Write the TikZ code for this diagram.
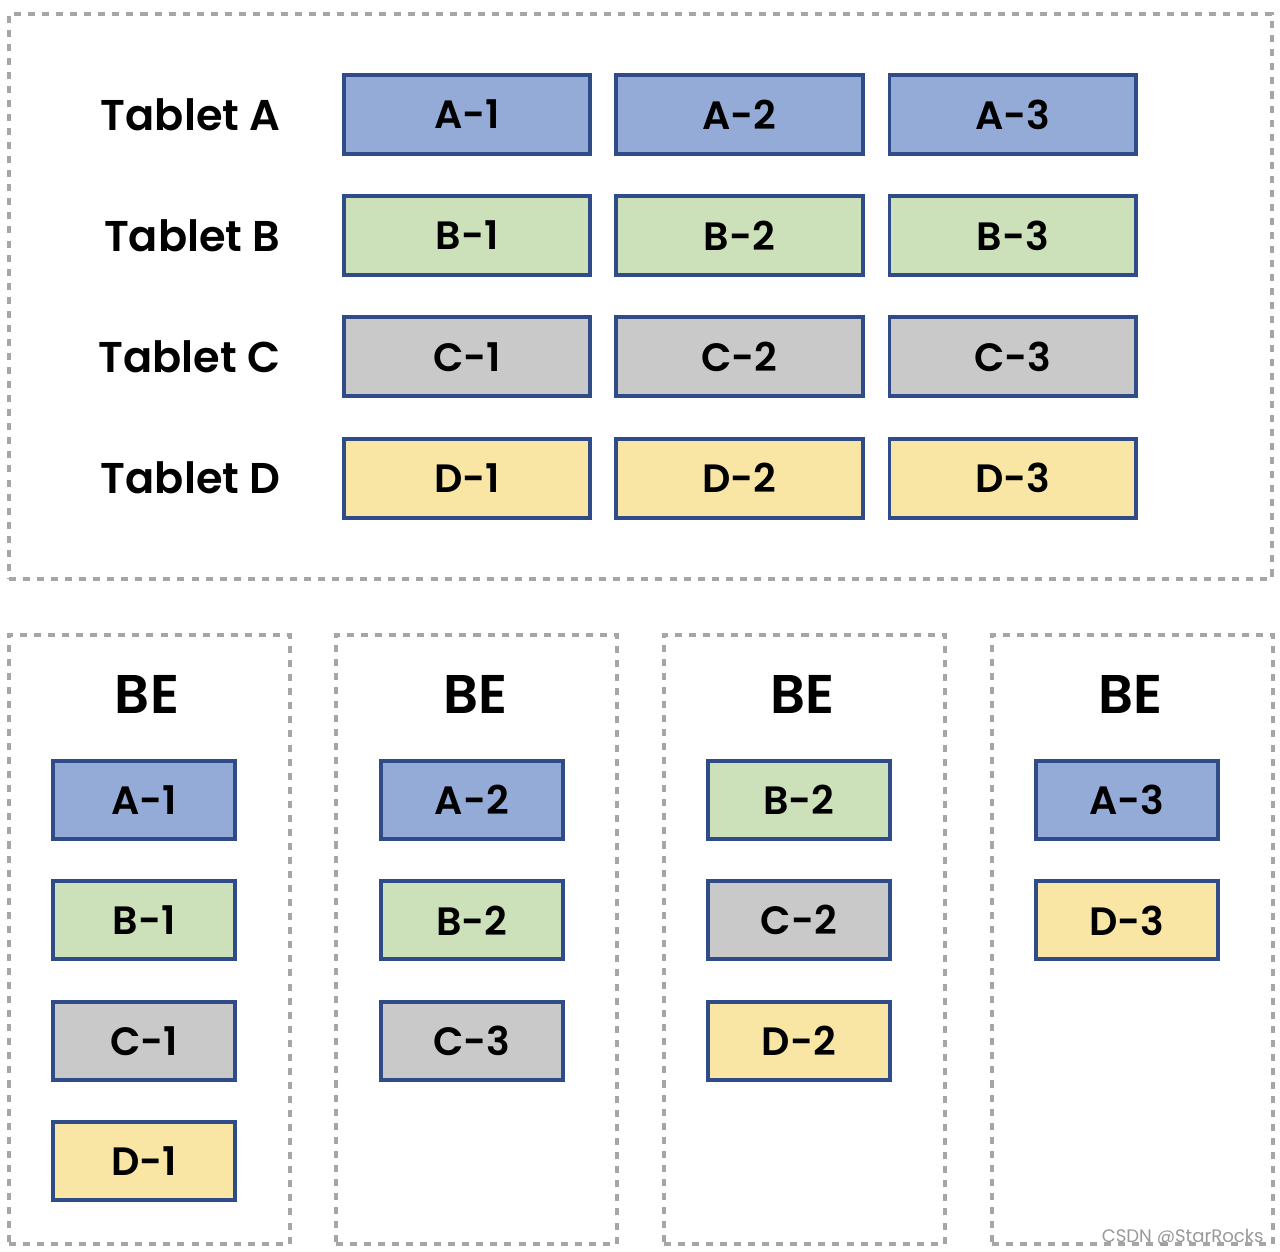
\documentclass[tikz,border=0pt]{standalone}
\usepackage{fontspec}
\setmainfont{Poppins}[BoldFont={Poppins SemiBold}]
\usepackage{xcolor}
\usepackage{tikz}
\usetikzlibrary{positioning}

\definecolor{partblue}{HTML}{95ABD7}
\definecolor{partgreen}{HTML}{CCE0BA}
\definecolor{partgray}{HTML}{C9C9C9}
\definecolor{partyellow}{HTML}{F9E6A5}
\definecolor{partline}{HTML}{2F4C88}
\definecolor{groupline}{HTML}{A6A6A6}

\begin{document}
\begin{tikzpicture}[
    font=\bfseries,
    groupbox/.style={draw=groupline, line width=2pt, dash pattern=on 4pt off 4pt, anchor=north west, inner sep=0pt},
    tabletbox/.style={draw=partline, line width=2.2pt, minimum width=4.93cm, minimum height=1.58cm, inner sep=0pt, font=\fontsize{22.5}{26}\bfseries},
    replicabox/.style={tabletbox, minimum width=3.64cm, minimum height=1.56cm},
    rowlabel/.style={font=\fontsize{24.5}{28}\bfseries, inner sep=0pt},
    betitle/.style={font=\fontsize{31}{34}\bfseries, inner sep=0pt},
]
\useasboundingbox (0,0) rectangle (25.6,-25.04);

% Tablets with their three parts
\node[groupbox, minimum width=25.26cm, minimum height=11.3cm] (tablets) at (0.14,-0.24) {};

\node[tabletbox, fill=partblue] (a1) at (9.34,-2.29) {A-1};
\node[tabletbox, fill=partblue, right=0.44cm of a1] (a2) {A-2};
\node[tabletbox, fill=partblue, right=0.46cm of a2] (a3) {A-3};
\node[rowlabel, left=1.22cm of a1] (ta) {Tablet A};

\node[tabletbox, fill=partgreen, below=0.76cm of a1] (b1) {B-1};
\node[tabletbox, fill=partgreen, right=0.44cm of b1] (b2) {B-2};
\node[tabletbox, fill=partgreen, right=0.46cm of b2] (b3) {B-3};
\node[rowlabel, left=1.22cm of b1] (tb) {Tablet B};

\node[tabletbox, fill=partgray, below=0.77cm of b1] (c1) {C-1};
\node[tabletbox, fill=partgray, right=0.44cm of c1] (c2) {C-2};
\node[tabletbox, fill=partgray, right=0.46cm of c2] (c3) {C-3};
\node[rowlabel, left=1.22cm of c1] (tc) {Tablet C};

\node[tabletbox, fill=partyellow, below=0.77cm of c1] (d1) {D-1};
\node[tabletbox, fill=partyellow, right=0.44cm of d1] (d2) {D-2};
\node[tabletbox, fill=partyellow, right=0.46cm of d2] (d3) {D-3};
\node[rowlabel, left=1.22cm of d1] (td) {Tablet D};

% BE nodes
\node[groupbox, minimum width=5.62cm, minimum height=12.18cm] (be1) at (0.14,-12.66) {};
\node[groupbox, minimum width=5.62cm, minimum height=12.18cm] (be2) at (6.68,-12.66) {};
\node[groupbox, minimum width=5.62cm, minimum height=12.18cm] (be3) at (13.24,-12.66) {};
\node[groupbox, minimum width=5.62cm, minimum height=12.18cm] (be4) at (19.8,-12.66) {};

\node[betitle] (t1) at (2.94,-13.88) {BE};
\node[betitle] (t2) at (9.5,-13.88) {BE};
\node[betitle] (t3) at (16.04,-13.88) {BE};
\node[betitle] (t4) at (22.6,-13.88) {BE};

% first BE
\node[replicabox, fill=partblue] (r1a) at (2.88,-16.0) {A-1};
\node[replicabox, fill=partgreen, below=0.77cm of r1a] (r1b) {B-1};
\node[replicabox, fill=partgray, below=0.77cm of r1b] (r1c) {C-1};
\node[replicabox, fill=partyellow, below=0.77cm of r1c] (r1d) {D-1};

% second BE
\node[replicabox, fill=partblue] (r2a) at (9.44,-16.0) {A-2};
\node[replicabox, fill=partgreen, below=0.77cm of r2a] (r2b) {B-2};
\node[replicabox, fill=partgray, below=0.77cm of r2b] (r2c) {C-3};

% third BE
\node[replicabox, fill=partgreen] (r3a) at (15.98,-16.0) {B-2};
\node[replicabox, fill=partgray, below=0.77cm of r3a] (r3b) {C-2};
\node[replicabox, fill=partyellow, below=0.77cm of r3b] (r3c) {D-2};

% fourth BE
\node[replicabox, fill=partblue] (r4a) at (22.54,-16.0) {A-3};
\node[replicabox, fill=partyellow, below=0.77cm of r4a] (r4b) {D-3};

\node[anchor=south east, inner sep=0pt, text=gray!80, font=\mdseries\fontsize{10.3}{12}\selectfont] (mark) at (25.28,-24.92) {CSDN @StarRocks};
\end{tikzpicture}
\end{document}
